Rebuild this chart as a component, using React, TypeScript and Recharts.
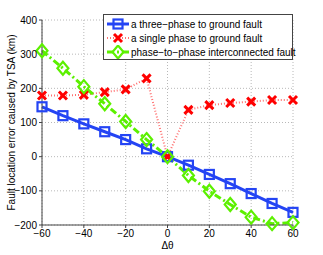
import { LineChart, Line, XAxis, YAxis, CartesianGrid } from "recharts"

const theta = [-60, -50, -40, -30, -20, -10, 0, 10, 20, 30, 40, 50, 60]
const threePhase = [146, 120, 96, 73, 50, 23, 0, -25, -52, -79, -108, -137, -163]
const singlePhase = [179, 179, 181, 189, 197, 229, 0, 137, 151, 157, 161, 166, 166]
const interconnected = [310, 259, 205, 155, 103, 50, 0, -55, -101, -140, -177, -196, -193]

const xTicks = [-60, -40, -20, 0, 20, 40, 60]
const yTicks = [-200, -100, 0, 100, 200, 300, 400]

const seriesNames = [
  "a three\u2212phase to ground fault",
  "a single phase to ground fault",
  "phase\u2212to\u2212phase interconnected fault",
]

const BLUE = "#2444f4"
const RED = "#ff0000"
const RED_LINE = "#ff7070"
const GREEN = "#5cf000"
const FONT = "'Liberation Sans', Arial, sans-serif"

const data = theta.map((t, i) => ({
  theta: t,
  three: threePhase[i],
  single: singlePhase[i],
  inter: interconnected[i],
}))

const SquareDot = ({ cx, cy }: any) => (
  <rect x={cx - 4.5} y={cy - 4.5} width={9} height={9} fill="none" stroke={BLUE} strokeWidth={2.2} />
)

const CrossDot = ({ cx, cy }: any) => (
  <path
    d={`M${cx - 4},${cy - 4}L${cx + 4},${cy + 4}M${cx - 4},${cy + 4}L${cx + 4},${cy - 4}`}
    stroke={RED}
    strokeWidth={3}
    fill="none"
  />
)

const DiamondDot = ({ cx, cy }: any) => (
  <path
    d={`M${cx},${cy - 6.5}L${cx + 5.5},${cy}L${cx},${cy + 6.5}L${cx - 5.5},${cy}Z`}
    fill="none"
    stroke={GREEN}
    strokeWidth={2.2}
  />
)

const LegendBox = () => {
  const rows = [
    { color: BLUE, dash: undefined, width: 3, Dot: SquareDot },
    { color: RED_LINE, dash: "1 2", width: 2, Dot: CrossDot },
    { color: GREEN, dash: "7 3 2 3", width: 3, Dot: DiamondDot },
  ]
  return (
    <div
      style={{
        position: "absolute",
        left: 103,
        top: 14,
        width: 190,
        height: 46,
        background: "#fff",
        border: "1px solid #444",
        boxSizing: "border-box",
        fontFamily: FONT,
        fontSize: 10,
        color: "#000",
        paddingTop: 2,
      }}
    >
      {rows.map((r, i) => (
        <div key={i} style={{ display: "flex", alignItems: "center", height: 14 }}>
          <svg width={27} height={14} style={{ flex: "none" }}>
            <line x1={3} y1={7} x2={25} y2={7} stroke={r.color} strokeWidth={r.width} strokeDasharray={r.dash} />
            <r.Dot cx={14} cy={7} />
          </svg>
          <span style={{ whiteSpace: "nowrap" }}>{seriesNames[i]}</span>
        </div>
      ))}
    </div>
  )
}

export default function App() {
  return (
    <div style={{ position: "absolute", left: 0, top: 0, width: 323, height: 255, background: "#fff" }}>
      <LineChart width={323} height={255} data={data} margin={{ top: 20, right: 30, bottom: 0, left: 0 }}>
        <CartesianGrid stroke="#b8b8b8" strokeDasharray="1 2" />
        <XAxis
          dataKey="theta"
          type="number"
          domain={[-60, 60]}
          ticks={xTicks}
          height={30}
          tickSize={3}
          tickLine={{ stroke: "#444" }}
          axisLine={{ stroke: "#444" }}
          tick={{ fontSize: 10, fill: "#000", fontFamily: FONT }}
          tickFormatter={(v: number) => (v < 0 ? `\u2212${-v}` : `${v}`)}
          label={({ viewBox }: any) => (
            <text
              x={viewBox.x + viewBox.width / 2}
              y={viewBox.y + 24}
              textAnchor="middle"
              fontSize={10}
              fontFamily={FONT}
            >
              Δθ
            </text>
          )}
        />
        <YAxis
          type="number"
          domain={[-200, 400]}
          ticks={yTicks}
          width={42}
          tickSize={3}
          tickLine={{ stroke: "#444" }}
          axisLine={{ stroke: "#444" }}
          tick={{ fontSize: 10, fill: "#000", fontFamily: FONT }}
          tickFormatter={(v: number) => (v < 0 ? `\u2212${-v}` : `${v}`)}
          label={({ viewBox }: any) => {
            const cy = viewBox.y + viewBox.height / 2
            return (
              <text
                x={15}
                y={cy}
                textAnchor="middle"
                fontSize={10}
                fontFamily={FONT}
                transform={`rotate(-90 15 ${cy})`}
              >
                Fault location error caused by TSA (km)
              </text>
            )
          }}
        />
        <Line
          dataKey="single"
          stroke={RED_LINE}
          strokeWidth={2}
          strokeDasharray="1 2"
          dot={<CrossDot />}
          isAnimationActive={false}
        />
        <Line
          dataKey="three"
          stroke={BLUE}
          strokeWidth={3}
          dot={<SquareDot />}
          isAnimationActive={false}
        />
        <Line
          dataKey="inter"
          stroke={GREEN}
          strokeWidth={3}
          strokeDasharray="7 3 2 3"
          dot={<DiamondDot />}
          isAnimationActive={false}
        />
      </LineChart>
      <LegendBox />
    </div>
  )
}
